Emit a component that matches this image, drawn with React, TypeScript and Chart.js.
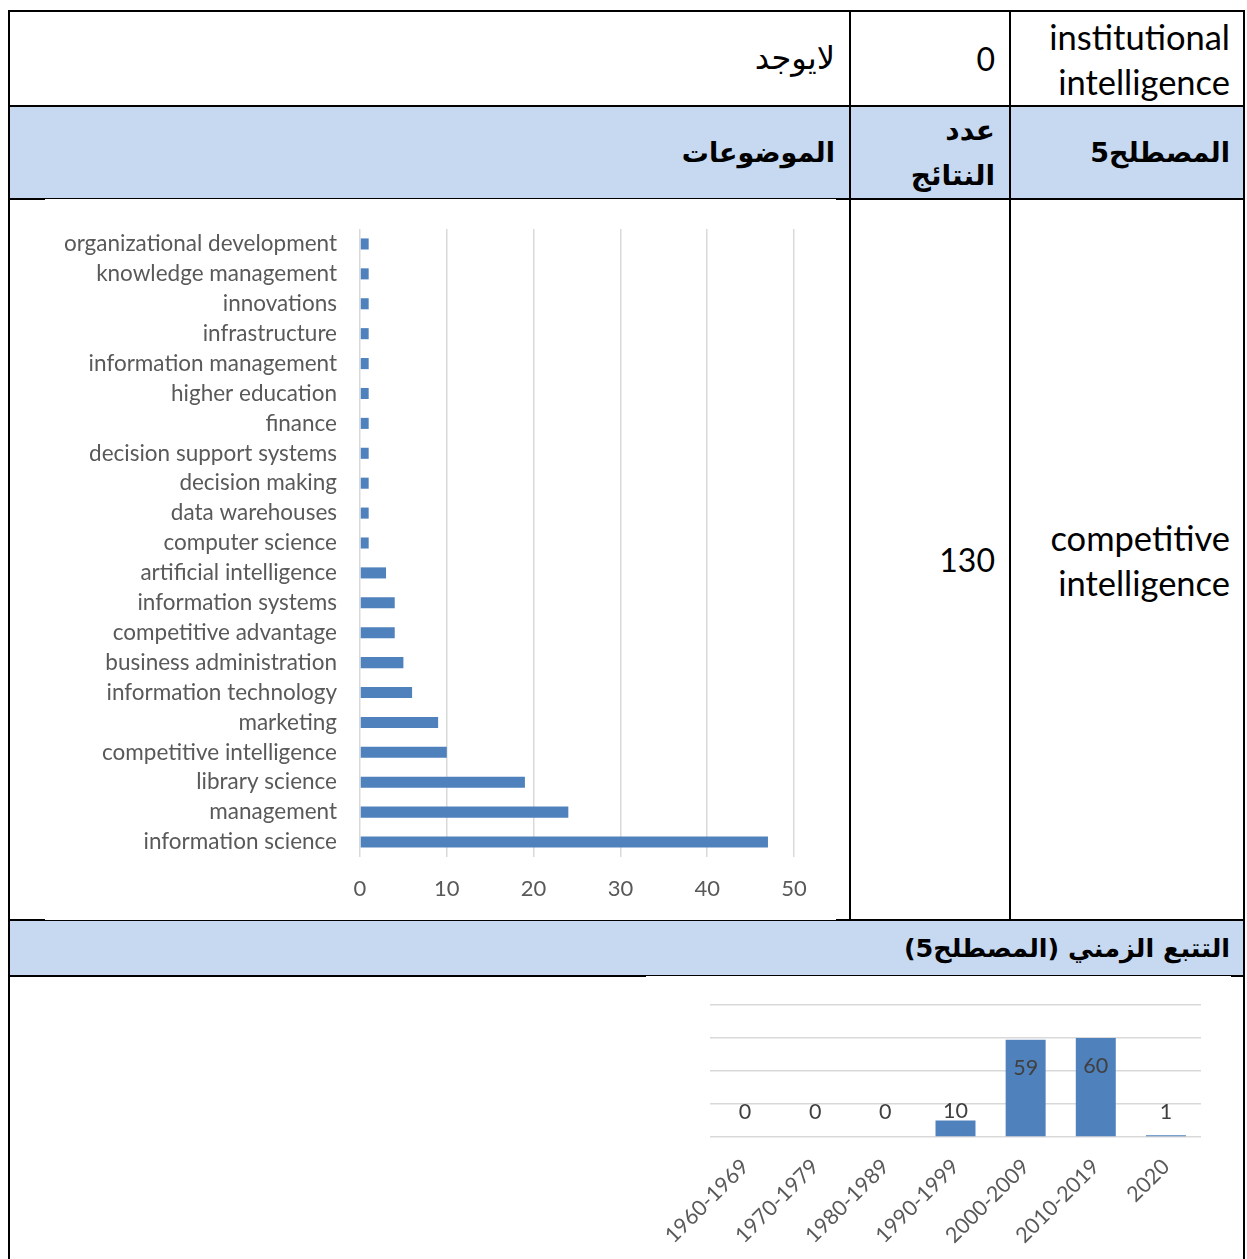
import React, { useEffect, useRef } from "react";
import { Chart, registerables } from "chart.js";

Chart.register(...registerables);

// ---------- data ----------
const topicLabels = [
  "organizational development",
  "knowledge management",
  "innovations",
  "infrastructure",
  "information management",
  "higher education",
  "finance",
  "decision support systems",
  "decision making",
  "data warehouses",
  "computer science",
  "artificial intelligence",
  "information systems",
  "competitive advantage",
  "business administration",
  "information technology",
  "marketing",
  "competitive intelligence",
  "library science",
  "management",
  "information science",
];
const topicValues = [1, 1, 1, 1, 1, 1, 1, 1, 1, 1, 1, 3, 4, 4, 5, 6, 9, 10, 19, 24, 47];
const topicAxisMax = 50;
const topicAxisStep = 10;

const periodLabels = ["1960-1969", "1970-1979", "1980-1989", "1990-1999", "2000-2009", "2010-2019", "2020"];
const periodValues = [0, 0, 0, 10, 59, 60, 1];
const periodAxisMax = 80;
const periodAxisStep = 20;

// ---------- styles ----------
const BAR = "#4f81bd";
const GRID = "#d9d9d9";
const TICK = "#595959";
const LABEL = "#404040";
const HEAD = "#c6d9f1";
const LATIN = "Lato, 'Open Sans', sans-serif";
const ARABIC = "'DejaVu Sans', sans-serif";

const barLabelPlugin = {
  id: "barLabels",
  afterDatasetsDraw(chart: any) {
    const ctx = chart.ctx;
    const meta = chart.getDatasetMeta(0);
    const base = chart.scales.y.getPixelForValue(0);
    ctx.save();
    ctx.font = `21.5px ${LATIN}`;
    ctx.fillStyle = LABEL;
    ctx.textAlign = "center";
    ctx.textBaseline = "middle";
    meta.data.forEach((el: any, i: number) => {
      const v = chart.data.datasets[0].data[i];
      const top = el.y;
      let y;
      if (base - top > 60) y = top + 28;
      else y = Math.min(top - 9, base - 25);
      ctx.fillText(String(v), el.x, y);
    });
    ctx.restore();
  },
};

function TopicChart() {
  const ref = useRef<HTMLCanvasElement>(null);
  useEffect(() => {
    const chart = new Chart(ref.current!, {
      type: "bar",
      data: {
        labels: topicLabels,
        datasets: [
          {
            data: topicValues,
            backgroundColor: BAR,
            barPercentage: 0.37,
            categoryPercentage: 1,
          },
        ],
      },
      options: {
        indexAxis: "y",
        responsive: false,
        maintainAspectRatio: false,
        animation: false,
        layout: { padding: { top: 30, right: 42, bottom: 0, left: 0 } },
        plugins: { legend: { display: false }, tooltip: { enabled: false } },
        scales: {
          x: {
            min: 0,
            max: topicAxisMax,
            ticks: { stepSize: topicAxisStep, padding: 19, color: TICK, font: { family: LATIN, size: 22 } },
            grid: { color: GRID, lineWidth: 1.5, drawTicks: false },
            border: { display: false },
            afterFit: (s: any) => {
              s.height = 63;
              s.paddingLeft = 0;
              s.paddingRight = 0;
            },
          },
          y: {
            ticks: { padding: 23, color: TICK, font: { family: LATIN, size: 22.5 }, autoSkip: false },
            grid: { display: false, drawTicks: false },
            border: { display: false },
            afterFit: (s: any) => {
              s.width = 315;
              s.paddingTop = 0;
              s.paddingBottom = 0;
            },
          },
        },
      } as any,
    });
    return () => chart.destroy();
  }, []);
  return (
    <canvas
      ref={ref}
      width={791}
      height={721}
      style={{ position: "absolute", left: 45, top: 199, width: 791, height: 721, background: "#fff" }}
    />
  );
}

function PeriodChart() {
  const ref = useRef<HTMLCanvasElement>(null);
  useEffect(() => {
    const chart = new Chart(ref.current!, {
      type: "bar",
      data: {
        labels: periodLabels,
        datasets: [
          {
            data: periodValues,
            backgroundColor: BAR,
            barPercentage: 0.57,
            categoryPercentage: 1,
          },
        ],
      },
      options: {
        responsive: false,
        maintainAspectRatio: false,
        animation: false,
        layout: { padding: { top: 29, right: 30, bottom: 0, left: 0 } },
        plugins: { legend: { display: false }, tooltip: { enabled: false } },
        scales: {
          x: {
            ticks: { minRotation: 45, maxRotation: 45, padding: 17, color: TICK, font: { family: LATIN, size: 21.5 } },
            grid: { display: false, drawTicks: false },
            border: { display: false },
            afterFit: (s: any) => {
              s.height = 122;
              s.paddingLeft = 0;
              s.paddingRight = 0;
            },
          },
          y: {
            min: 0,
            max: periodAxisMax,
            ticks: { stepSize: periodAxisStep, display: false },
            grid: { color: GRID, lineWidth: 1.5, drawTicks: false },
            border: { display: false },
            afterFit: (s: any) => {
              s.width = 64;
              s.paddingTop = 0;
              s.paddingBottom = 0;
            },
          },
        },
      } as any,
      plugins: [barLabelPlugin],
    });
    return () => chart.destroy();
  }, []);
  return (
    <canvas
      ref={ref}
      width={585}
      height={283}
      style={{ position: "absolute", left: 646, top: 976, width: 585, height: 283, background: "#fff" }}
    />
  );
}

function Line({ x, y, w, h }: { x: number; y: number; w: number; h: number }) {
  return <div style={{ position: "absolute", left: x, top: y, width: w, height: h, background: "#000" }} />;
}

function Cell({ x, y, w, h, pr, children, font, bold, rtl, lh, size }: any) {
  return (
    <div
      dir={rtl ? "rtl" : "ltr"}
      style={{
        position: "absolute",
        left: x,
        top: y,
        width: w,
        height: h,
        display: "flex",
        alignItems: "center",
        justifyContent: rtl ? "flex-start" : "flex-end",
        paddingRight: rtl ? 0 : pr,
        boxSizing: "border-box",
        fontFamily: font,
        fontWeight: bold ? 700 : 400,
        fontSize: size,
        lineHeight: lh + "px",
        color: "#000",
        textAlign: "right",
        whiteSpace: "nowrap",
      }}
    >
      <div style={{ marginRight: rtl ? pr : 0 }}>{children}</div>
    </div>
  );
}

export default function App() {
  const xL = 8, xC1 = 849, xC2 = 1009, xR = 1243;
  const yT = 10, y1 = 105, y2 = 198, y3 = 919, y4 = 975;
  return (
    <div
      style={{
        position: "absolute",
        left: 0,
        top: 0,
        width: 1247,
        height: 1259,
        overflow: "hidden",
        background: "#fff",
      }}
    >
      {/* header fills */}
      <div style={{ position: "absolute", left: xL + 2, top: y1 + 2, width: xR - xL - 2, height: y2 - y1 - 2, background: HEAD }} />
      <div style={{ position: "absolute", left: xL + 2, top: y3 + 2, width: xR - xL - 2, height: y4 - y3 - 2, background: HEAD }} />

      {/* borders */}
      <Line x={xL} y={yT} w={xR - xL + 2} h={2} />
      <Line x={xL} y={y1} w={xR - xL + 2} h={2} />
      <Line x={xL} y={y2} w={xR - xL + 2} h={2} />
      <Line x={xL} y={y3} w={xR - xL + 2} h={2} />
      <Line x={xL} y={y4} w={xR - xL + 2} h={2} />
      <Line x={xL} y={yT} w={2} h={1259 - yT} />
      <Line x={xR} y={yT} w={2} h={1259 - yT} />
      <Line x={xC1} y={yT} w={2} h={y3 - yT + 2} />
      <Line x={xC2} y={yT} w={2} h={y3 - yT + 2} />

      {/* row 1 */}
      <Cell x={xC2 + 2} y={yT + 2} w={xR - xC2 - 2} h={y1 - yT - 2} pr={13} font={LATIN} size={34.5} lh={45}>
        institutional
        <br />
        intelligence
      </Cell>
      <Cell x={xC1 + 2} y={yT + 2} w={xC2 - xC1 - 2} h={y1 - yT - 2} pr={14} font={LATIN} size={32} lh={45}>
        0
      </Cell>
      <Cell x={xL + 2} y={yT + 2} w={xC1 - xL - 2} h={y1 - yT - 2} pr={14} font={ARABIC} size={32} lh={45} rtl>
        لايوجد
      </Cell>

      {/* row 2 header */}
      <Cell x={xC2 + 2} y={y1 + 2} w={xR - xC2 - 2} h={y2 - y1 - 2} pr={13} font={ARABIC} size={27} lh={45} bold rtl>
        المصطلح5
      </Cell>
      <Cell x={xC1 + 2} y={y1 + 2} w={xC2 - xC1 - 2} h={y2 - y1 - 2} pr={14} font={ARABIC} size={28} lh={45} bold rtl>
        عدد
        <br />
        النتائج
      </Cell>
      <Cell x={xL + 2} y={y1 + 2} w={xC1 - xL - 2} h={y2 - y1 - 2} pr={14} font={ARABIC} size={27} lh={45} bold rtl>
        الموضوعات
      </Cell>

      {/* row 3 */}
      <Cell x={xC2 + 2} y={y2 + 2} w={xR - xC2 - 2} h={y3 - y2 - 2} pr={13} font={LATIN} size={34.5} lh={45}>
        competitive
        <br />
        intelligence
      </Cell>
      <Cell x={xC1 + 2} y={y2 + 2} w={xC2 - xC1 - 2} h={y3 - y2 - 2} pr={14} font={LATIN} size={32} lh={45}>
        130
      </Cell>

      {/* row 4 header */}
      <Cell x={xL + 2} y={y3 + 2} w={xR - xL - 2} h={y4 - y3 - 2} pr={13} font={ARABIC} size={25.5} lh={45} bold rtl>
        التتبع الزمني (المصطلح5)
      </Cell>

      <TopicChart />
      <PeriodChart />
    </div>
  );
}
